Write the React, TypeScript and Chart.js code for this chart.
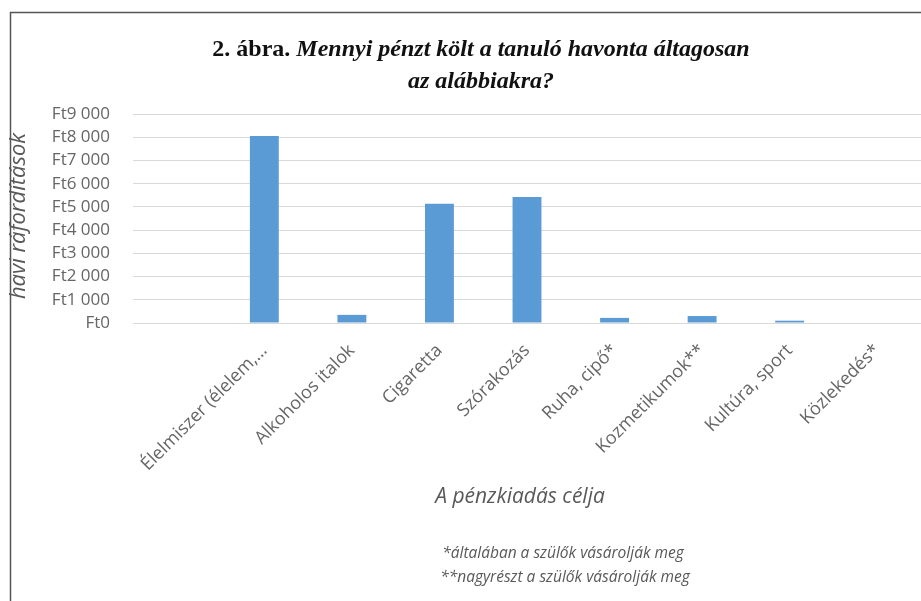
import React, { useEffect, useRef } from "react";
import { Chart, registerables } from "chart.js";

Chart.register(...registerables);

const categories = [
  "",
  "Élelmiszer (élelem,…",
  "Alkoholos italok",
  "Cigaretta",
  "Szórakozás",
  "Ruha, cipő*",
  "Kozmetikumok**",
  "Kultúra, sport",
  "Közlekedés*",
];
const values = [0, 8050, 350, 5130, 5430, 220, 300, 100, 0];
const yMax = 9000;
const yStep = 1000;
const titleBold = "2. ábra.";
const titleItalic1 = "Mennyi pénzt költ a tanuló havonta áltagosan";
const titleLine2 = "az alábbiakra?";
const yTitle = "havi ráfordítások";
const xTitle = "A pénzkiadás célja";
const footnotes = [
  "*általában a szülők vásárolják meg",
  "**nagyrészt a szülők vásárolják meg",
];

const fmt = (v: number) => {
  if (v === 0) return "Ft0";
  const s = String(v);
  const th = s.slice(0, s.length - 3);
  return "Ft" + th + " " + s.slice(-3);
};

const decorPlugin = {
  id: "decor",
  afterDraw(chart: any) {
    const ctx = chart.ctx as CanvasRenderingContext2D;
    ctx.save();
    // frame
    ctx.strokeStyle = "#555";
    ctx.lineWidth = 1.5;
    ctx.beginPath();
    ctx.moveTo(10.5, 601);
    ctx.lineTo(10.5, 12.5);
    ctx.lineTo(921, 12.5);
    ctx.stroke();

    // title
    ctx.fillStyle = "#111";
    ctx.textBaseline = "alphabetic";
    const boldFont = "bold 24px 'Liberation Serif'";
    const italicFont = "italic bold 24px 'Liberation Serif'";
    ctx.font = boldFont;
    const w1 = ctx.measureText(titleBold + " ").width;
    ctx.font = italicFont;
    const w2 = ctx.measureText(titleItalic1).width;
    const cx = 481;
    const x = cx - (w1 + w2) / 2;
    ctx.font = boldFont;
    ctx.textAlign = "left";
    ctx.fillText(titleBold + " ", x, 56);
    ctx.font = italicFont;
    ctx.fillText(titleItalic1, x + w1, 56);
    ctx.textAlign = "center";
    ctx.fillText(titleLine2, cx, 88);

    // y title
    ctx.fillStyle = "#595959";
    ctx.font = "italic 22px 'Open Sans'";
    ctx.translate(19, 216);
    ctx.rotate(-Math.PI / 2);
    ctx.textAlign = "center";
    ctx.textBaseline = "middle";
    ctx.fillText(yTitle, 0, 0);
    ctx.restore();

    ctx.save();
    ctx.fillStyle = "#595959";
    ctx.textAlign = "center";
    ctx.textBaseline = "middle";
    ctx.font = "italic 21px 'Open Sans'";
    ctx.fillText(xTitle, 520, 497);
    ctx.font = "italic 15.5px 'Open Sans'";
    ctx.fillText(footnotes[0], 563, 554);
    ctx.fillText(footnotes[1], 565, 578);
    ctx.restore();
  },
};

export default function App() {
  const ref = useRef<HTMLCanvasElement>(null);
  useEffect(() => {
    const chart = new Chart(ref.current!, {
      type: "bar",
      data: {
        labels: categories,
        datasets: [
          {
            data: values,
            backgroundColor: "#5B9BD5",
            categoryPercentage: 1,
            barPercentage: 0.33,
          },
        ],
      },
      options: {
        animation: false,
        responsive: false,
        devicePixelRatio: 1,
        layout: { padding: { top: 114, right: -8, bottom: 80, left: 0 } },
        plugins: { legend: { display: false }, tooltip: { enabled: false } },
        scales: {
          x: {
            grid: { display: false },
            border: { display: false },
            ticks: {
              minRotation: 45,
              maxRotation: 45,
              autoSkip: false,
              color: "#666",
              font: { family: "'Open Sans'", size: 18 },
              padding: 9,
            },
            afterFit(scale: any) {
              scale.height = 601 - 80 - 323;
            },
          },
          y: {
            min: 0,
            max: yMax,
            grid: { color: "#D9D9D9", drawTicks: false },
            border: { display: false },
            ticks: {
              stepSize: yStep,
              autoSkip: false,
              color: "#666",
              font: { family: "'Open Sans'", size: 17 },
              padding: 23,
              callback: (v: any) => fmt(Number(v)),
            },
            afterFit(scale: any) {
              scale.width = 133;
            },
          },
        },
      },
      plugins: [decorPlugin],
    });
    return () => chart.destroy();
  }, []);
  return (
    <div style={{ position: "fixed", left: 0, top: 0, width: 921, height: 601, background: "#fff" }}>
      <canvas ref={ref} width={921} height={601} style={{ display: "block" }} />
    </div>
  );
}
